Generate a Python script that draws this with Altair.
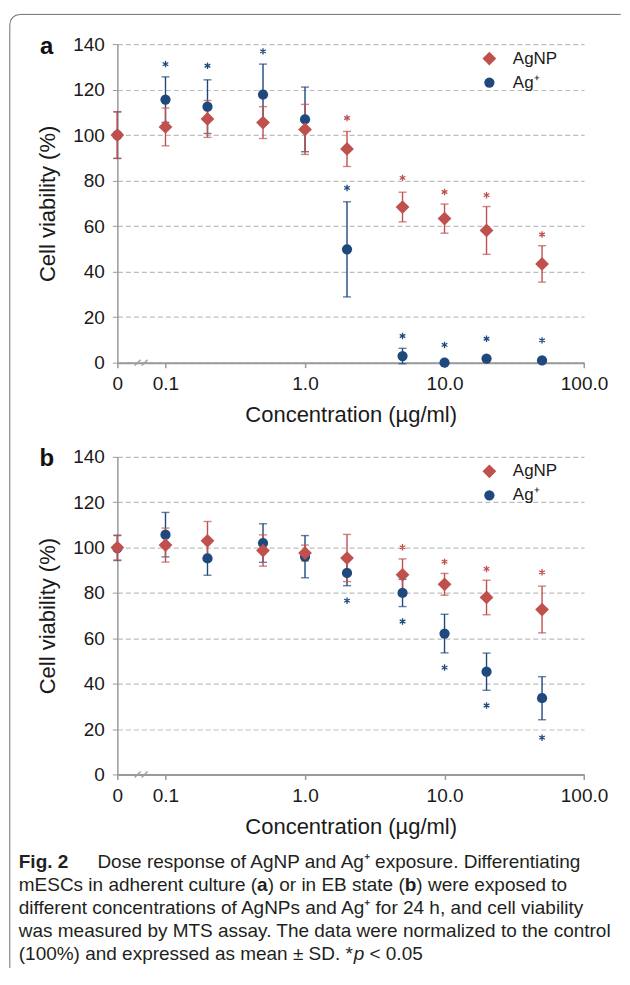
import math
import altair as alt
import pandas as pd

# ---------------- data ----------------
conc = [0, 0.1, 0.2, 0.5, 1, 2, 5, 10, 20, 50]
series_names = ["AgNP", "Ag⁺"]
series_colors = ["#C0504D", "#1F497D"]
series_shapes = ["diamond", "circle"]
series_sizes = [190, 105]

# panel a (adherent culture)
a_agnp_mean = [100.0, 103.6, 107.1, 105.5, 102.5, 93.9, 68.4, 63.3, 58.1, 43.4]
a_agnp_sd = [10.3, 8.3, 8.1, 7.0, 11.0, 7.7, 6.5, 6.4, 10.5, 8.0]
a_agnp_star = [None, None, None, None, None, 107.5, 81.2, 75.0, 73.6, 56.3]
a_ag_mean = [100.0, 115.6, 112.5, 117.8, 106.9, 49.8, 2.9, 0.0, 1.8, 1.0]
a_ag_sd = [10.2, 10.0, 11.8, 13.4, 14.2, 20.9, 3.4, 0.0, 0.0, 0.0]
a_ag_star = [None, 131.2, 130.5, 136.8, None, 76.8, 11.7, 7.8, 10.5, 9.8]

# panel b (EB state)
b_agnp_mean = [100.0, 101.1, 103.0, 98.7, 97.6, 95.4, 88.0, 83.8, 78.0, 72.7]
b_agnp_sd = [5.5, 7.5, 8.5, 6.9, 3.5, 10.4, 7.0, 4.8, 7.6, 10.3]
b_agnp_star = [None, None, None, None, None, None, 100.1, 93.8, 90.6, 89.1]
b_ag_mean = [99.8, 105.7, 95.2, 102.0, 96.0, 88.8, 80.0, 62.1, 45.3, 33.6]
b_ag_sd = [5.5, 9.8, 7.4, 8.5, 9.3, 5.6, 6.0, 8.5, 8.2, 9.5]
b_ag_star = [None, None, None, None, None, 76.6, 67.4, 47.1, 30.4, 16.2]

y_ticks = [0, 20, 40, 60, 80, 100, 120, 140]
x_tick_values = [0, 0.1, 1, 10, 100]
x_tick_labels = ["0", "0.1", "1.0", "10.0", "100.0"]

# caption: each line is a list of (text, style) runs
caption_runs = [
    [("Fig. 2", "bold"), ("Dose response of AgNP and Ag⁺ exposure. Differentiating", "gap")],
    [("mESCs in adherent culture (", "normal"), ("a", "bold"), (") or in EB state (", "normal"),
     ("b", "bold"), (") were exposed to", "normal")],
    [("different concentrations of AgNPs and Ag⁺ for 24 h, and cell viability", "normal")],
    [("was measured by MTS assay. The data were normalized to the control", "normal")],
    [("(100%) and expressed as mean ± SD. *", "normal"), ("p", "italic"), (" < 0.05", "normal")],
]

# ---------------- layout / style ----------------
FONT = "Liberation Sans"
BREAK = -1.345          # axis position (in log10 units) given to the 0 control
W = 467.3
H_A = 319
H_B = 318
GRID = "#bdbdbd"
AXC = "#9a9a9a"
BORDER = "#6e6e6e"
ASTER = "M0,-1L0,1M-0.87,-0.5L0.87,0.5M-0.87,0.5L0.87,-0.5"
CAP_FS = 19

# Arial / Liberation Sans advance widths (per 1000 em) used to chain caption runs
_W = {" ": 278, "(": 333, ")": 333, "a": 556, "b": 556, "c": 500, "d": 556, "e": 556,
      "h": 556, "i": 222, "l": 222, "m": 833, "n": 556, "o": 556, "r": 333, "s": 500,
      "t": 278, "u": 556, "x": 500, "p": 556, "y": 500, "v": 500, "f": 278, "g": 556,
      "w": 722, "z": 500, "E": 667, "S": 667, "C": 722, "B": 667, "D": 722, "M": 833,
      "T": 611, "%": 889, "±": 584, ".": 278, "*": 389, "0": 556, "1": 556, "2": 556,
      "4": 556, "5": 556, "<": 584, ",": 278}
_WB = {"a": 556, "b": 611, "p": 611}


def text_width(s, style):
    if style == "bold" and len(s) == 1:
        return _WB[s] * CAP_FS / 1000
    return sum(_W.get(ch, 556) for ch in s) * CAP_FS / 1000


def logpos(c):
    return BREAK if c == 0 else round(math.log10(c), 6)


tick_pos = [logpos(v) for v in x_tick_values]
label_expr = "".join(
    f"abs(datum.value - ({p})) < 0.01 ? '{lab}' : " for p, lab in zip(tick_pos, x_tick_labels)
) + "''"

x_axis = alt.Axis(
    values=tick_pos, labelExpr=label_expr, grid=False, domainColor=AXC, domainWidth=2,
    tickColor=AXC, tickSize=5, tickWidth=1.5, labelFontSize=19, labelPadding=7,
    title="Concentration (µg/ml)", titleFontSize=22, titlePadding=11, labelFlush=False,
)
y_axis = alt.Axis(
    values=y_ticks, grid=True, gridDash=[5, 3], gridColor=GRID, gridWidth=1.2,
    domainColor=AXC, domainWidth=1.5, tickColor=AXC, tickSize=5, labelFontSize=19,
    labelPadding=8, title="Cell viability (%)", titleFontSize=22, titlePadding=13,
)


def panel(letter, height, agnp_mean, agnp_sd, agnp_star, ag_mean, ag_sd, ag_star, extra):
    rows = []
    for name, m, s, st in ((series_names[1], ag_mean, ag_sd, ag_star),
                           (series_names[0], agnp_mean, agnp_sd, agnp_star)):
        for c, mv, sv, tv in zip(conc, m, s, st):
            rows.append({"conc": c, "series": name, "mean": mv, "sd": sv, "star": tv})
    df = pd.DataFrame(rows)
    base = alt.Chart(df).transform_calculate(
        pos=f"datum.conc == 0 ? {BREAK} : log(datum.conc) / LN10",
        lo="datum.mean - datum.sd",
        hi="datum.mean + datum.sd",
    )
    xs = alt.Scale(domain=[BREAK, 2], nice=False, zero=False)
    ys = alt.Scale(domain=[0, 140], nice=False)
    X = alt.X("pos:Q", scale=xs, axis=x_axis)

    def Y(f):
        return alt.Y(f, scale=ys, axis=y_axis)

    layers = []
    # error bars, caps and significance stars, one series at a time (Ag+ first so AgNP is on top)
    for idx in (1, 0):
        sb = base.transform_filter(alt.datum.series == series_names[idx])
        col = alt.value(series_colors[idx])
        layers.append(sb.mark_rule(strokeWidth=1.4).encode(x=X, y=Y("lo:Q"), y2="hi:Q", color=col))
        layers.append(sb.mark_tick(orient="horizontal", size=8, thickness=1.4).encode(
            x=X, y=Y("hi:Q"), color=col))
        layers.append(sb.mark_tick(orient="horizontal", size=8, thickness=1.4).encode(
            x=X, y=Y("lo:Q"), color=col))
        layers.append(sb.transform_filter("isValid(datum.star) && isFinite(datum.star)").mark_point(
            shape=ASTER, size=42, strokeWidth=1.3, filled=False, opacity=1).encode(
            x=X, y=Y("star:Q"), color=col))

    leg = dict(orient="none", legendX=364, legendY=6, title=None, labelFontSize=17,
               labelFont=FONT, symbolSize=160, labelOffset=15, rowPadding=6, padding=0,
               symbolStrokeWidth=0, symbolOpacity=1, labelColor="#1a1a1a")
    pts = base.mark_point(filled=True, opacity=1, strokeWidth=0).encode(
        x=X, y=Y("mean:Q"),
        color=alt.Color("series:N", scale=alt.Scale(domain=series_names, range=series_colors),
                        legend=alt.Legend(**leg)),
        shape=alt.Shape("series:N", scale=alt.Scale(domain=series_names, range=series_shapes),
                        legend=alt.Legend(**leg)),
        size=alt.Size("series:N", scale=alt.Scale(domain=series_names, range=series_sizes),
                      legend=None),
    )
    layers.append(pts)

    # axis break marks
    brk = alt.Chart(pd.DataFrame({"k": [0]}))
    for xc in (20.3, 27.3):
        layers.append(brk.mark_rule(color=AXC, strokeWidth=1.3).encode(
            x=alt.value(xc - 3), x2=alt.value(xc + 3), y=alt.value(height + 3),
            y2=alt.value(height - 3)))
    layers.append(alt.Chart(pd.DataFrame({"t": [letter]})).mark_text(
        fontWeight="bold", fontSize=24, font=FONT, align="center", baseline="middle",
        color="#111").encode(text="t:N", x=alt.value(-70.7), y=alt.value(2.5)))

    return alt.layer(*(layers + extra)).properties(width=W, height=height)


# border of the figure box (top & left edges, rounded corner), drawn in panel a
frame = alt.Chart(pd.DataFrame({"k": [0]}))
border = [
    frame.mark_rule(color=BORDER, strokeWidth=1).encode(
        x=alt.value(-97.7), x2=alt.value(504), y=alt.value(-29.7)),
    frame.mark_rule(color=BORDER, strokeWidth=1).encode(
        x=alt.value(-107.7), y=alt.value(-19.7), y2=alt.value(925)),
    frame.mark_arc(color=BORDER, theta=4.7124, theta2=6.2832, radius=10.5, radius2=9.5).encode(
        x=alt.value(-97.7), y=alt.value(-19.7)),
]

# caption, drawn in panel b (positions relative to its plot area)
cap = alt.Chart(pd.DataFrame({"k": [0]}))
caption = []
for i, runs in enumerate(caption_runs):
    x = -98.7
    for txt, style in runs:
        if style == "gap":
            x = -20
            style = "normal"
        lead = len(txt) - len(txt.lstrip(" "))
        x += lead * _W[" "] * CAP_FS / 1000
        txt = txt.lstrip(" ")
        props = dict(font=FONT, fontSize=CAP_FS, align="left", baseline="middle",
                     color="#231f20", text=txt)
        if style == "bold":
            props["fontWeight"] = "bold"
        if style == "italic":
            props["fontStyle"] = "italic"
        caption.append(cap.mark_text(**props).encode(x=alt.value(x), y=alt.value(406 + 23 * i)))
        x += text_width(txt, style)

pa = panel("a", H_A, a_agnp_mean, a_agnp_sd, a_agnp_star, a_ag_mean, a_ag_sd, a_ag_star, border)
pb = panel("b", H_B, b_agnp_mean, b_agnp_sd, b_agnp_star, b_ag_mean, b_ag_sd, b_ag_star, caption)

chart = alt.vconcat(pa, pb, spacing=94.3, bounds="flush").resolve_scale(
    color="independent", shape="independent", size="independent"
).properties(
    padding={"left": 0.5, "top": 4.5, "right": 0, "bottom": 0}
).configure_view(stroke=None).configure_axis(
    labelFont=FONT, titleFont=FONT, labelColor="#1a1a1a", titleColor="#1a1a1a",
    titleFontWeight="normal",
).configure_text(font=FONT)

chart.save("out.html", embed_options={"renderer": "svg", "actions": False})
